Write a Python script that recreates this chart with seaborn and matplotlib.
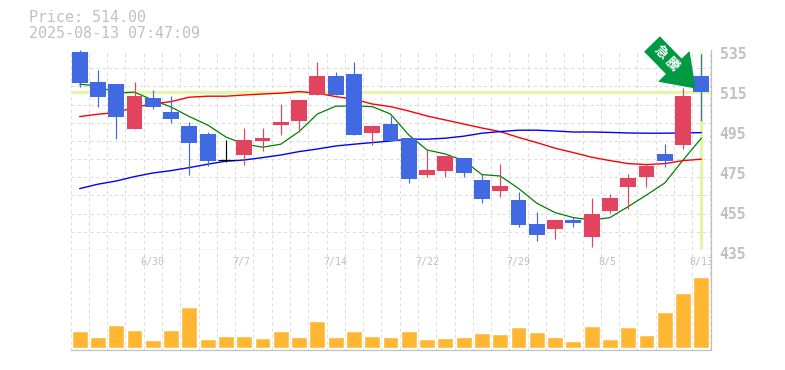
"""
Candlestick chart with moving averages and a volume panel
"""

import matplotlib
matplotlib.use('Agg')
import matplotlib.pyplot as plt
from matplotlib.patches import FancyArrow
from matplotlib.transforms import IdentityTransform, ScaledTranslation
import numpy as np
import pandas as pd
import seaborn as sns

opens = [534, 519, 518, 495.5, 511, 504, 497, 493, 479.8, 482.5, 489.5, 497.5, 499.5, 512.5, 522, 523, 493.5, 498,
         491, 472.5, 474.5, 481, 470, 464.5, 460, 448, 445.5, 450, 441.5, 454.5, 466.5, 471.5, 483, 487.5, 522]
closes = [518.5, 511.5, 501.5, 512, 506.5, 500.5, 488.5, 479.5, 479.8, 490, 491, 499, 510, 522, 512.5, 492.5, 497, 489.5,
          470.5, 475, 482, 473.5, 460.5, 467, 447.5, 442.5, 450, 448.5, 453, 461, 471, 477, 479.5, 512, 514]
highs = [535, 525, 518, 519, 515, 512, 499, 494, 490, 496, 496, 508, 510, 529, 524, 529, 497, 502,
         491, 485.5, 482, 481, 473, 478, 464, 454, 450, 451.5, 461, 463, 473, 478, 488, 516, 533]
lows = [516.7, 506.7, 490.5, 495.5, 505.5, 498.5, 472.5, 477, 479, 477.5, 484.5, 492.5, 494, 512.5, 512.5, 492.5, 487.5, 489.5,
        468.5, 471.5, 471.5, 471.5, 458.5, 461.5, 446.5, 439.5, 440.5, 446.5, 436.5, 453.5, 455.5, 466.5, 476.5, 485.5, 499.5]
ma_short = [517.9, 517, 513.5, 513.9, 510, 506.5, 501.7, 497.5, 491.5, 488, 486.4, 487.9, 494.2, 503, 506.9, 507, 506.7, 503,
            492.5, 485, 483, 479.7, 472.7, 472, 465.8, 458.4, 453.7, 451.2, 450, 451.2, 456.7, 462.5, 468.5, 480, 490.9]
ma_mid = [501.7, 502.9, 503.7, 506.4, 508, 509.2, 511.4, 511.9, 511.9, 512.5, 513, 513.4, 514.2, 513.4, 511.7, 510.4, 508, 506.7,
          504.5, 502, 500, 498, 496, 494.2, 491.3, 488.7, 485.9, 483.7, 481.4, 479.7, 478.2, 477.7, 478.2, 479.7, 480.4]
ma_long = [465.7, 467.9, 469.5, 471.7, 473.5, 474.7, 476.2, 477.9, 479.4, 480, 481.2, 482.5, 484.2, 485.5, 487, 487.9, 488.7, 489.5,
           490.4, 490.4, 490.9, 491.9, 493.4, 494.2, 494.9, 494.9, 494.5, 494, 494, 493.8, 493.5, 493.4, 493.4, 493.5, 493.7]
volumes = [17, 11, 23, 18, 8, 18, 41, 9, 12, 12, 10, 17, 11, 27, 11, 17, 12, 11,
           17, 9, 10, 11, 15, 14, 21, 16, 11, 7, 22, 9, 21, 13, 36, 55, 71]
date_labels = {4: '6/30', 9: '7/7', 14: '7/14', 19: '7/22', 24: '7/29', 29: '8/5', 34: '8/13'}
price_ticks = [435, 455, 475, 495, 515, 535]
last_price = 514.00
price_text = 'Price: 514.00'
time_text = '2025-08-13 07:47:09'

GREY = '#c0c0c0'
GRID = '#dcdcdc'
RED = '#e2435f'
BLUE = '#4169e1'
PALE = '#e4f5a8'
W, H = 785, 370


def main():
    sns.set_theme(style='white')
    plt.rcParams['font.family'] = ['DejaVu Sans Mono', 'Noto Sans CJK JP']

    df = pd.DataFrame({'x': range(len(opens)), 'open': opens, 'close': closes, 'high': highs, 'low': lows,
                       'short': ma_short, 'mid': ma_mid, 'long': ma_long, 'volume': volumes})
    n = len(df)
    edges = np.arange(n + 1) - 0.5

    fig = plt.figure(figsize=(W / 100, H / 100), dpi=100)
    ax = fig.add_axes([70.5 / W, 1 - 250 / H, 640 / W, 200 / H])
    vol = fig.add_axes([70.5 / W, 1 - 350 / H, 640 / W, 100 / H])

    for a in (ax, vol):
        a.set_xlim(edges[0], edges[-1])
        a.set_xticks(edges, minor=True)
        a.set_xticks([])
        a.grid(True, which='minor', axis='x', color=GRID, lw=0.75, ls=(0, (3, 3)))
        a.tick_params(which='both', length=0, labelbottom=False)
        a.set_axisbelow(True)
        for side in ('top', 'left'):
            a.spines[side].set_visible(False)
        for side in ('right', 'bottom'):
            a.spines[side].set_color(GREY)
            a.spines[side].set_linewidth(0.9)

    # price panel
    ax.set_ylim(435, 535)
    ax.set_yticks(np.linspace(435, 535, 12), minor=True)
    ax.grid(True, which='minor', axis='y', color=GRID, lw=0.75, ls=(0, (3, 3)))
    ax.yaxis.tick_right()
    ax.set_yticks(price_ticks)
    ax.set_yticklabels(price_ticks, color=GREY, fontsize=10.6, fontweight='bold')
    ax.tick_params(axis='y', which='major', pad=6.5)
    shift = ScaledTranslation(0, -3 / 100, fig.dpi_scale_trans)
    for label in ax.get_yticklabels():
        label.set_transform(label.get_transform() + shift)

    ax.axhline(last_price, color=PALE, lw=2.3, zorder=1.5)
    ax.vlines(n - 1, 435.5, 534, color=PALE, lw=2.3, zorder=1.5, snap=True)

    sns.lineplot(data=df, x='x', y='short', ax=ax, color='#008000', lw=0.9, zorder=2, errorbar=None)
    sns.lineplot(data=df, x='x', y='mid', ax=ax, color='#ff0000', lw=1.0, zorder=2, errorbar=None)
    sns.lineplot(data=df, x='x', y='long', ax=ax, color='#0000ff', lw=1.0, zorder=2, errorbar=None)

    for row in df.itertuples():
        if row.close > row.open:
            c = RED
        elif row.close < row.open:
            c = BLUE
        else:
            c = 'black'
        ax.vlines(row.x, row.low, row.high, color=c, lw=0.85, zorder=3, snap=True)
        if row.close == row.open:
            ax.hlines(row.open, row.x - 0.45, row.x + 0.45, color=c, lw=0.85, zorder=3, snap=True)
        else:
            ax.bar(row.x, abs(row.close - row.open), bottom=min(row.open, row.close), width=0.87,
                   color=c, lw=0, zorder=3)
    ax.set_xlim(edges[0], edges[-1])
    ax.set_xlabel('')
    ax.set_ylabel('')

    # volume panel
    sns.barplot(data=df, x='x', y='volume', ax=vol, color='#ffb733', saturation=1, width=0.87,
                native_scale=True, zorder=3)
    vol.set_xlim(edges[0], edges[-1])
    vol.set_ylim(-2, 98)
    vol.set_xlabel('')
    vol.set_ylabel('')
    vol.set_yticks([])
    for i, text in date_labels.items():
        vol.annotate(text, (i, 1), xycoords=vol.get_xaxis_transform(), xytext=(-8.6, -8.6), textcoords='offset points',
                     ha='left', va='center', color=GREY, fontsize=7.2, annotation_clip=False, zorder=4)

    # header text
    fig.text(29 / W, 1 - 18 / H, price_text, color=GREY, fontsize=10.8, va='center')
    fig.text(29 / W, 1 - 33 / H, time_text, color=GREY, fontsize=10.8, va='center')

    # signal arrow in figure pixels
    arrow = FancyArrow(652, H - 44, 43.5, -44.5, width=22, head_width=44, head_length=31,
                       length_includes_head=True, color='#009944', lw=0,
                       transform=IdentityTransform(), zorder=10)
    fig.add_artist(arrow)
    fig.text(660.5 / W, 1 - 52.5 / H, '\u6025', color='white', fontsize=9.5, fontweight='bold',
             rotation=-45, rotation_mode='anchor', ha='center', va='center', zorder=11)
    fig.text(672 / W, 1 - 65 / H, '\u9a30', color='white', fontsize=9.5, fontweight='bold',
             rotation=-45, rotation_mode='anchor', ha='center', va='center', zorder=11)

    fig.savefig('out.png', dpi=100)


if __name__ == '__main__':
    main()
